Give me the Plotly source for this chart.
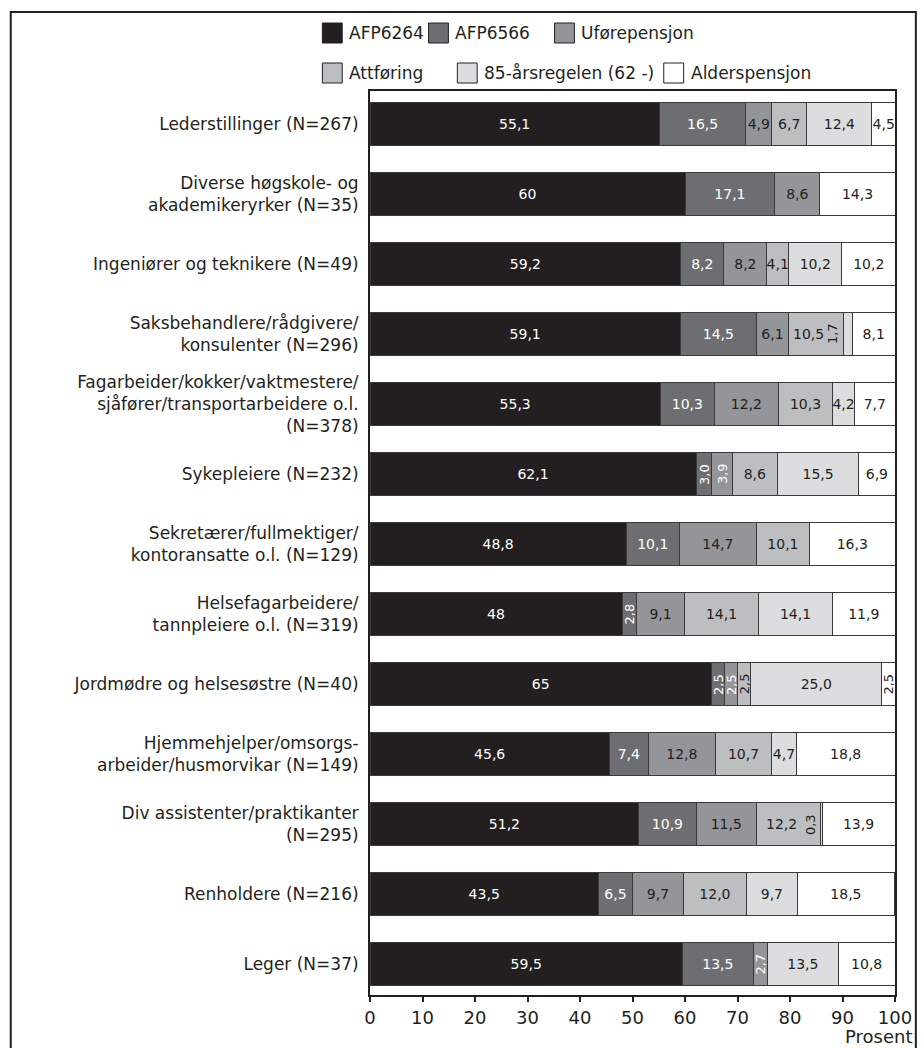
import plotly.graph_objects as go

# Occupational groups (top to bottom)
categories = [
    "Lederstillinger (N=267)",
    "Diverse høgskole- og<br>akademikeryrker (N=35)",
    "Ingeniører og teknikere (N=49)",
    "Saksbehandlere/rådgivere/<br>konsulenter (N=296)",
    "Fagarbeider/kokker/vaktmestere/<br>sjåfører/transportarbeidere o.l.<br>(N=378)",
    "Sykepleiere (N=232)",
    "Sekretærer/fullmektiger/<br>kontoransatte o.l. (N=129)",
    "Helsefagarbeidere/<br>tannpleiere o.l. (N=319)",
    "Jordmødre og helsesøstre (N=40)",
    "Hjemmehjelper/omsorgs-<br>arbeider/husmorvikar (N=149)",
    "Div assistenter/praktikanter<br>(N=295)",
    "Renholdere (N=216)",
    "Leger (N=37)",
]

series_names = ["AFP6264", "AFP6566", "Uførepensjon", "Attføring",
                "85-årsregelen (62 -)", "Alderspensjon"]

# Percent shares per group (None = no cases)
afp6264 = [55.1, 60, 59.2, 59.1, 55.3, 62.1, 48.8, 48, 65, 45.6, 51.2, 43.5, 59.5]
afp6566 = [16.5, 17.1, 8.2, 14.5, 10.3, 3.0, 10.1, 2.8, 2.5, 7.4, 10.9, 6.5, 13.5]
uforepensjon = [4.9, 8.6, 8.2, 6.1, 12.2, 3.9, 14.7, 9.1, 2.5, 12.8, 11.5, 9.7, 2.7]
attforing = [6.7, None, 4.1, 10.5, 10.3, 8.6, 10.1, 14.1, 2.5, 10.7, 12.2, 12.0, None]
regel85 = [12.4, None, 10.2, 1.7, 4.2, 15.5, None, 14.1, 25.0, 4.7, 0.3, 9.7, 13.5]
alderspensjon = [4.5, 14.3, 10.2, 8.1, 7.7, 6.9, 16.3, 11.9, 2.5, 18.8, 13.9, 18.5, 10.8]

series_values = [afp6264, afp6566, uforepensjon, attforing, regel85, alderspensjon]

colors = ["#231f20", "#6d6e71", "#939598", "#bcbec0", "#dcddde", "#ffffff"]
text_colors = ["#ffffff", "#ffffff", "#231f20", "#231f20", "#231f20", "#231f20"]
rot_text_colors = ["#ffffff", "#ffffff", "#ffffff", "#231f20", "#231f20", "#231f20"]

FONT = "DejaVu Sans, Verdana, sans-serif"
INK = "#231f20"

W, H = 924, 1048
ML, MR, MT, MB = 370, 25, 91, 53
PW, PH = W - ML - MR, H - MT - MB


def px_x(p):
    return (p - ML) / PW


def px_y(p):
    return 1 - (p - MT) / PH


def fmt(v):
    return str(v).replace(".", ",")


SMALL = 4.0   # segments narrower than this get vertical labels
TINY = 2.0    # vertical label placed just left of a segment this thin
n = len(categories)

# Segments whose label is nudged left to make room for a tiny neighbour
nudged = set()
for i in range(n):
    prev = None
    for s, vals in enumerate(series_values):
        v = vals[i]
        if v is None:
            continue
        if v < TINY and prev is not None:
            nudged.add((prev, i))
        prev = s

fig = go.Figure()
for s, (name, vals, col, tcol) in enumerate(zip(series_names, series_values, colors, text_colors)):
    texts = ["" if (v is None or v < SMALL or (s, i) in nudged) else fmt(v)
             for i, v in enumerate(vals)]
    fig.add_trace(go.Bar(
        y=categories, x=vals, name=name, orientation="h",
        marker=dict(color=col, line=dict(color="#3a3a3a", width=1)),
        text=texts, textposition="inside", insidetextanchor="middle",
        textangle=0, constraintext="none",
        textfont=dict(family=FONT, size=14, color=tcol),
        width=0.62, showlegend=False, hoverinfo="skip",
    ))

annotations = []
for i, cat in enumerate(categories):
    start = 0.0
    for s, vals in enumerate(series_values):
        v = vals[i]
        if v is None:
            continue
        if (s, i) in nudged:
            annotations.append(dict(
                x=start + v / 2, y=cat, xref="x", yref="y", text=fmt(v),
                showarrow=False, xshift=-7,
                font=dict(family=FONT, size=14, color=text_colors[s])))
        elif v < TINY:
            annotations.append(dict(
                x=start, y=cat, xref="x", yref="y", text=fmt(v),
                textangle=-90, showarrow=False, xanchor="right", xshift=-1,
                font=dict(family=FONT, size=13, color=rot_text_colors[s])))
        elif v < SMALL:
            annotations.append(dict(
                x=start + v / 2, y=cat, xref="x", yref="y", text=fmt(v),
                textangle=-90, showarrow=False,
                font=dict(family=FONT, size=13, color=rot_text_colors[s])))
        start += v

# Legend: two rows of swatches with labels
legend_rows = [
    (33, [(322, 0), (429, 1), (556, 2)]),
    (73, [(322, 3), (458, 4), (666, 5)]),
]
shapes = []
SW = 20
for yc, items in legend_rows:
    for xs, s in items:
        shapes.append(dict(
            type="rect", xref="paper", yref="paper",
            x0=px_x(xs), x1=px_x(xs + SW), y0=px_y(yc + SW / 2), y1=px_y(yc - SW / 2),
            fillcolor=colors[s], line=dict(color=INK, width=1)))
        annotations.append(dict(
            x=px_x(xs + SW + 5), y=px_y(yc), xref="paper", yref="paper",
            text=series_names[s], showarrow=False, xanchor="left", yanchor="middle",
            font=dict(family=FONT, size=17, color=INK)))

# Outer frame around the figure
shapes.append(dict(
    type="rect", xref="paper", yref="paper",
    x0=px_x(8), x1=px_x(920), y0=px_y(1070), y1=px_y(12),
    line=dict(color=INK, width=2), fillcolor="rgba(0,0,0,0)", layer="below"))

annotations.append(dict(
    x=px_x(918), y=px_y(1036), xref="paper", yref="paper", text="Prosent",
    showarrow=False, xanchor="right", yanchor="middle",
    font=dict(family=FONT, size=18, color=INK)))

fig.update_layout(
    width=W, height=H, barmode="stack", bargap=0.38,
    margin=dict(l=ML, r=MR, t=MT, b=MB),
    paper_bgcolor="white", plot_bgcolor="white",
    font=dict(family=FONT, color=INK),
    uniformtext=dict(minsize=14, mode="show"),
    shapes=shapes, annotations=annotations,
    xaxis=dict(
        range=[0, 100], tickvals=list(range(0, 101, 10)),
        ticks="outside", ticklen=5, tickwidth=1.5, tickcolor=INK,
        showline=True, linecolor=INK, linewidth=2, mirror=True,
        showgrid=False, zeroline=False,
        tickfont=dict(family=FONT, size=18, color=INK),
    ),
    yaxis=dict(
        type="category", categoryorder="array", categoryarray=categories,
        range=[n - 1 + 0.44, -0.47],
        showline=True, linecolor=INK, linewidth=2, mirror=True,
        showgrid=False, zeroline=False, ticks="", ticklabelstandoff=6,
        tickfont=dict(family=FONT, size=17, color=INK),
    ),
)

fig.write_html("out.html")
